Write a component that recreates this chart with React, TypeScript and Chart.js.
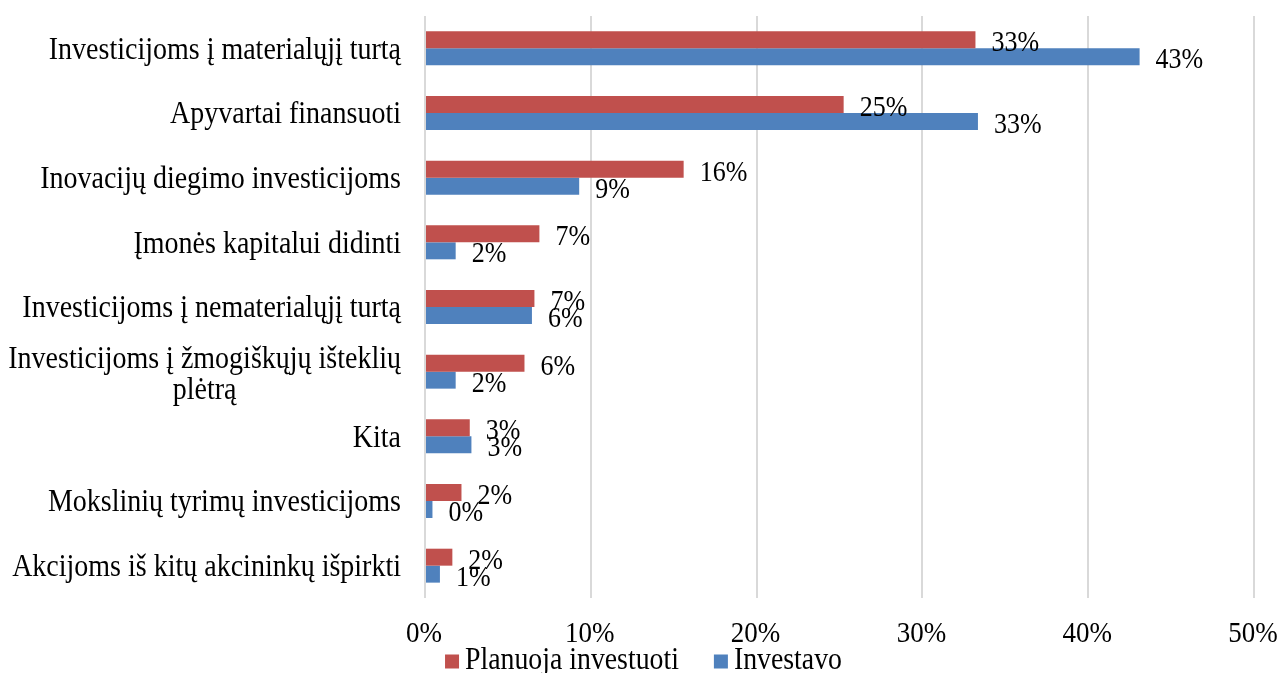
import React, { useEffect, useRef } from "react";
import { Chart, registerables } from "chart.js";

Chart.register(...registerables);

// ---- data ----
const categories: (string | string[])[] = [
  "Investicijoms į materialųjį turtą",
  "Apyvartai finansuoti",
  "Inovacijų diegimo investicijoms",
  "Įmonės kapitalui didinti",
  "Investicijoms į nematerialųjį turtą",
  ["Investicijoms į žmogiškųjų išteklių", "plėtrą"],
  "Kita",
  "Mokslinių tyrimų investicijoms",
  "Akcijoms iš kitų akcininkų išpirkti",
];
const seriesNames = ["Planuoja investuoti", "Investavo"];
const planuojaValues = [33.2, 25.25, 15.6, 6.9, 6.6, 6.0, 2.7, 2.2, 1.65];
const investavoValues = [43.1, 33.35, 9.3, 1.85, 6.45, 1.85, 2.8, 0.45, 0.9];
const xTicks = [0, 10, 20, 30, 40, 50];
const seriesColors = ["#C0504D", "#4F81BD"];

// ---- style ----
const FONT_FAMILY = "'Liberation Serif', 'Times New Roman', serif";
const CAT_SIZE = 28;
const TICK_SIZE = 27;
const DATA_SIZE = 26;
const LEGEND_SIZE = 27.8;
const STRETCH = 1.1;
const CAP = 0.67;

// draw text so that the cap/digit centre sits at cy, with slight vertical stretch
function drawText(ctx: any, text: string, x: number, cy: number, size: number, align: string) {
  ctx.save();
  ctx.font = `${size}px ${FONT_FAMILY}`;
  ctx.textAlign = align;
  ctx.textBaseline = "alphabetic";
  ctx.fillStyle = "#000";
  const baseline = cy + (CAP * size * STRETCH) / 2;
  ctx.translate(x, baseline);
  ctx.scale(1, STRETCH);
  ctx.fillText(text, 0, 0);
  ctx.restore();
}

const yLabelPlugin = {
  id: "yLabelPlugin",
  afterDraw(chart: any) {
    const ctx = chart.ctx;
    const ys = chart.scales.y;
    ctx.save();
    ctx.font = `${CAT_SIZE}px ${FONT_FAMILY}`;
    const right = chart.chartArea.left - 24;
    categories.forEach((lab, i) => {
      const lines = Array.isArray(lab) ? lab : [lab];
      const cy = ys.getPixelForValue(i);
      const maxW = Math.max(...lines.map((l) => ctx.measureText(l).width));
      const cx = right - maxW / 2;
      lines.forEach((l, k) => {
        const y = cy + (k - (lines.length - 1) / 2) * 31 + (lines.length > 1 ? 1.5 : 0);
        drawText(ctx, l, cx, y, CAT_SIZE, "center");
      });
    });
    ctx.restore();
  },
};

const xLabelPlugin = {
  id: "xLabelPlugin",
  afterDraw(chart: any) {
    const ctx = chart.ctx;
    const xs = chart.scales.x;
    xTicks.forEach((v) => {
      drawText(ctx, v + "%", xs.getPixelForValue(v) - 1, chart.chartArea.bottom + 34, TICK_SIZE, "center");
    });
  },
};

const dataLabelPlugin = {
  id: "dataLabelPlugin",
  afterDatasetsDraw(chart: any) {
    const ctx = chart.ctx;
    chart.data.datasets.forEach((ds: any, di: number) => {
      const meta = chart.getDatasetMeta(di);
      meta.data.forEach((bar: any, i: number) => {
        const v = ds.data[i];
        drawText(ctx, Math.round(v) + "%", bar.x + 16, bar.y + 1.8, DATA_SIZE, "left");
      });
    });
  },
};

const legendPlugin = {
  id: "customLegend",
  afterDraw(chart: any) {
    const ctx = chart.ctx;
    ctx.save();
    ctx.font = `${LEGEND_SIZE}px ${FONT_FAMILY}`;
    const box = 14;
    const gap = 6;
    const itemGap = 35;
    const widths = seriesNames.map((n) => ctx.measureText(n).width);
    const total =
      widths.reduce((a, w) => a + box + gap + w, 0) + itemGap * (seriesNames.length - 1);
    let x = 643.5 - total / 2;
    const cy = 660;
    seriesNames.forEach((n, i) => {
      ctx.fillStyle = seriesColors[i];
      ctx.fillRect(x, cy - box / 2 + 1.5, box, box);
      drawText(ctx, n, x + box + gap, cy - 1, LEGEND_SIZE, "left");
      x += box + gap + widths[i] + itemGap;
    });
    ctx.restore();
  },
};

export default function App() {
  const canvasRef = useRef<HTMLCanvasElement | null>(null);

  useEffect(() => {
    if (!canvasRef.current) return;
    const chart = new Chart(canvasRef.current, {
      type: "bar",
      data: {
        labels: categories.map((c) => (Array.isArray(c) ? c.join(" ") : c)),
        datasets: [
          {
            label: seriesNames[0],
            data: planuojaValues,
            backgroundColor: seriesColors[0],
            borderWidth: 0,
            categoryPercentage: 0.525,
            barPercentage: 1,
          },
          {
            label: seriesNames[1],
            data: investavoValues,
            backgroundColor: seriesColors[1],
            borderWidth: 0,
            categoryPercentage: 0.525,
            barPercentage: 1,
          },
        ],
      },
      options: {
        indexAxis: "y",
        animation: false,
        responsive: true,
        maintainAspectRatio: false,
        layout: { padding: { top: 16, right: 26, bottom: 35, left: 0 } },
        plugins: {
          legend: { display: false },
          tooltip: { enabled: false },
        },
        scales: {
          y: {
            type: "category",
            ticks: { display: false },
            grid: { display: false, drawTicks: false },
            border: { display: false },
            afterFit: (s: any) => {
              s.width = 425;
              s.paddingTop = 0;
              s.paddingBottom = 0;
            },
          },
          x: {
            type: "linear",
            min: 0,
            max: 50,
            afterBuildTicks: (s: any) => {
              s.ticks = xTicks.map((v) => ({ value: v }));
            },
            ticks: { display: false },
            grid: { color: "#D9D9D9", lineWidth: 2, drawTicks: false },
            border: { display: false },
            afterFit: (s: any) => {
              s.height = 40;
              s.paddingLeft = 0;
              s.paddingRight = 0;
            },
          },
        },
      },
      plugins: [dataLabelPlugin, yLabelPlugin, xLabelPlugin, legendPlugin],
    });
    return () => chart.destroy();
  }, []);

  return (
    <div style={{ position: "fixed", left: 0, top: 0, width: 1280, height: 673, background: "#fff" }}>
      <canvas ref={canvasRef} />
    </div>
  );
}
